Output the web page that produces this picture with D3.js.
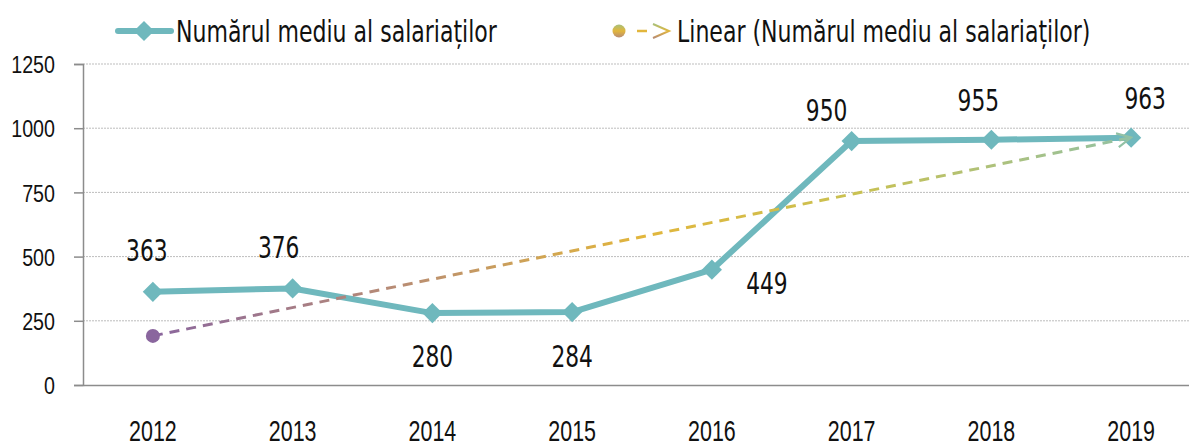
<!DOCTYPE html>
<html lang="ro">
<head>
  <meta charset="UTF-8" />
  <title>Numărul mediu al salariaților</title>
  <script src="https://d3js.org/d3.v7.min.js"></script>
  <style>
    body {
      margin: 0;
      background: #fff;
      font-family: "DejaVu Sans Condensed", "Liberation Sans", sans-serif;
      overflow: hidden;
    }
    .grid line { stroke: #bdbdbd; stroke-dasharray: 2,1; }
    .axis text { fill: #111; }
  </style>
</head>
<body>
  <script>
    // Chart data
    const years = ["2012", "2013", "2014", "2015", "2016", "2017", "2018", "2019"];
    const employees = [363, 376, 280, 284, 449, 950, 955, 963];
    const yTicks = [0, 250, 500, 750, 1000, 1250];
    const seriesName = "Numărul mediu al salariaților";
    const trendName = "Linear (Numărul mediu al salariaților)";

    // label placement (pixels from the point), layout only
    const labelOffsets = [[-6, -42], [-14, -42], [0, 43], [0, 44], [55, 13], [-25, -31], [-13, -40], [14, -40]];

    const width = 1189, height = 445;
    const teal = "#6fb8bd";

    const svg = d3.select("body").append("svg")
      .attr("width", width)
      .attr("height", height);

    // squeeze text horizontally to mimic the narrow font of the original
    function narrow(sel, r) {
      sel.each(function() {
        const t = d3.select(this);
        const x0 = +t.attr("x") || 0;
        t.attr("x", x0 / r).attr("transform", `scale(${r},1)`);
      });
    }

    const x = d3.scaleBand().domain(years).range([83, 1201]);
    const y = d3.scaleLinear().domain([0, 1250]).range([385, 64]);
    const cx = d => x(d) + x.bandwidth() / 2;

    // Gridlines
    svg.append("g").attr("class", "grid")
      .selectAll("line")
      .data(yTicks.filter(d => d > 0))
      .join("line")
      .attr("x1", 83).attr("x2", width)
      .attr("y1", d => y(d)).attr("y2", d => y(d));

    // Y axis
    const yAxis = svg.append("g").attr("class", "axis")
      .attr("transform", "translate(83,0)")
      .call(d3.axisLeft(y).tickValues(yTicks).tickSize(9).tickPadding(19).tickFormat(d3.format("d")));
    yAxis.select(".domain").attr("stroke", "#8c8c8c").attr("stroke-width", 1.5);
    yAxis.selectAll(".tick line").attr("stroke", "#8c8c8c").attr("stroke-width", 1.5);
    yAxis.selectAll("text")
      .attr("font-size", 24).attr("font-family", "inherit")
      .attr("dy", "0.36em")
      .call(narrow, 0.82);

    // X axis
    const xAxis = svg.append("g").attr("class", "axis")
      .attr("transform", "translate(0,385)")
      .call(d3.axisBottom(x).tickSize(0));
    xAxis.select(".domain").attr("stroke", "#8c8c8c").attr("stroke-width", 1.5);
    xAxis.selectAll("text")
      .attr("font-size", 29).attr("font-family", "inherit")
      .attr("dy", "0")
      .attr("y", 56)
      .call(narrow, 0.74);

    // Main series line
    const line = d3.line().x((d, i) => cx(years[i])).y(d => y(d));
    svg.append("path")
      .datum(employees)
      .attr("fill", "none")
      .attr("stroke", teal)
      .attr("stroke-width", 6)
      .attr("stroke-linejoin", "round")
      .attr("d", line);

    const diamond = d3.symbol().type(d3.symbolDiamond2).size(260);
    svg.append("g")
      .selectAll("path")
      .data(employees)
      .join("path")
      .attr("d", diamond)
      .attr("fill", teal)
      .attr("transform", (d, i) => `translate(${cx(years[i])},${y(d)})`);

    // Linear trend (least squares over the series)
    const idx = d3.range(employees.length);
    const mx = d3.mean(idx), my = d3.mean(employees);
    const slope = d3.sum(idx, i => (i - mx) * (employees[i] - my)) / d3.sum(idx, i => (i - mx) ** 2);
    const intercept = my - slope * mx;
    const trend = [0, employees.length - 1].map(i => ({ i, v: intercept + slope * i }));

    const defs = svg.append("defs");
    const grad = defs.append("linearGradient")
      .attr("id", "trendGrad")
      .attr("gradientUnits", "userSpaceOnUse")
      .attr("x1", cx(years[0])).attr("x2", cx(years[years.length - 1]))
      .attr("y1", 0).attr("y2", 0);
    [[0, "#8a669e"], [0.25, "#b88c74"], [0.5, "#e2b63c"], [0.72, "#c9c152"], [1, "#92c1a4"]]
      .forEach(s => grad.append("stop").attr("offset", s[0]).attr("stop-color", s[1]));

    defs.append("marker")
      .attr("id", "arrow")
      .attr("viewBox", "0 0 10 10")
      .attr("refX", 9).attr("refY", 5)
      .attr("markerWidth", 20).attr("markerHeight", 20)
      .attr("markerUnits", "userSpaceOnUse")
      .attr("orient", "auto")
      .append("path")
      .attr("d", "M2,1.5 L9,5 L2,8.5")
      .attr("fill", "none")
      .attr("stroke", "#92c1a4")
      .attr("stroke-width", 1.1);

    svg.append("path")
      .datum(trend)
      .attr("fill", "none")
      .attr("stroke", "url(#trendGrad)")
      .attr("stroke-width", 3)
      .attr("stroke-dasharray", "10,7")
      .attr("marker-end", "url(#arrow)")
      .attr("d", d3.line().x(d => cx(years[d.i])).y(d => y(d.v)));

    svg.append("circle")
      .attr("cx", cx(years[0]))
      .attr("cy", y(trend[0].v))
      .attr("r", 7)
      .attr("fill", "#8a669e");

    // Value labels
    svg.append("g")
      .selectAll("text")
      .data(employees)
      .join("text")
      .attr("x", (d, i) => cx(years[i]) + labelOffsets[i][0])
      .attr("y", (d, i) => y(d) + labelOffsets[i][1])
      .attr("dy", "0.36em")
      .attr("text-anchor", "middle")
      .attr("font-size", 31)
      .attr("fill", "#111")
      .text(d => d)
      .call(narrow, 0.78);

    // Legend
    const leg = svg.append("g");
    leg.append("line")
      .attr("x1", 118).attr("x2", 171).attr("y1", 31).attr("y2", 31)
      .attr("stroke", teal).attr("stroke-width", 6).attr("stroke-linecap", "round");
    leg.append("path")
      .attr("d", diamond)
      .attr("fill", teal)
      .attr("transform", "translate(144,31)");
    leg.append("text")
      .attr("x", 176).attr("y", 31)
      .attr("dy", "0.36em")
      .attr("font-size", 31)
      .attr("fill", "#111")
      .text(seriesName)
      .call(narrow, 0.79);

    const lgGrad = defs.append("linearGradient")
      .attr("id", "legGrad").attr("x1", 0).attr("x2", 0).attr("y1", 0).attr("y2", 1);
    [[0, "#a9c07a"], [0.5, "#e2b63c"], [1, "#b88c74"]]
      .forEach(s => lgGrad.append("stop").attr("offset", s[0]).attr("stop-color", s[1]));
    leg.append("circle")
      .attr("cx", 619).attr("cy", 31).attr("r", 6.5)
      .attr("fill", "url(#legGrad)");
    leg.append("line")
      .attr("x1", 637).attr("x2", 647).attr("y1", 31).attr("y2", 31)
      .attr("stroke", "#e2b63c").attr("stroke-width", 2.5);
    leg.append("path")
      .attr("d", "M653,24 L669,31 L653,38")
      .attr("fill", "none")
      .attr("stroke", "url(#legGrad)")
      .attr("stroke-width", 2);
    leg.append("text")
      .attr("x", 677).attr("y", 31)
      .attr("dy", "0.36em")
      .attr("font-size", 31)
      .attr("fill", "#111")
      .text(trendName)
      .call(narrow, 0.79);
  </script>
</body>
</html>
